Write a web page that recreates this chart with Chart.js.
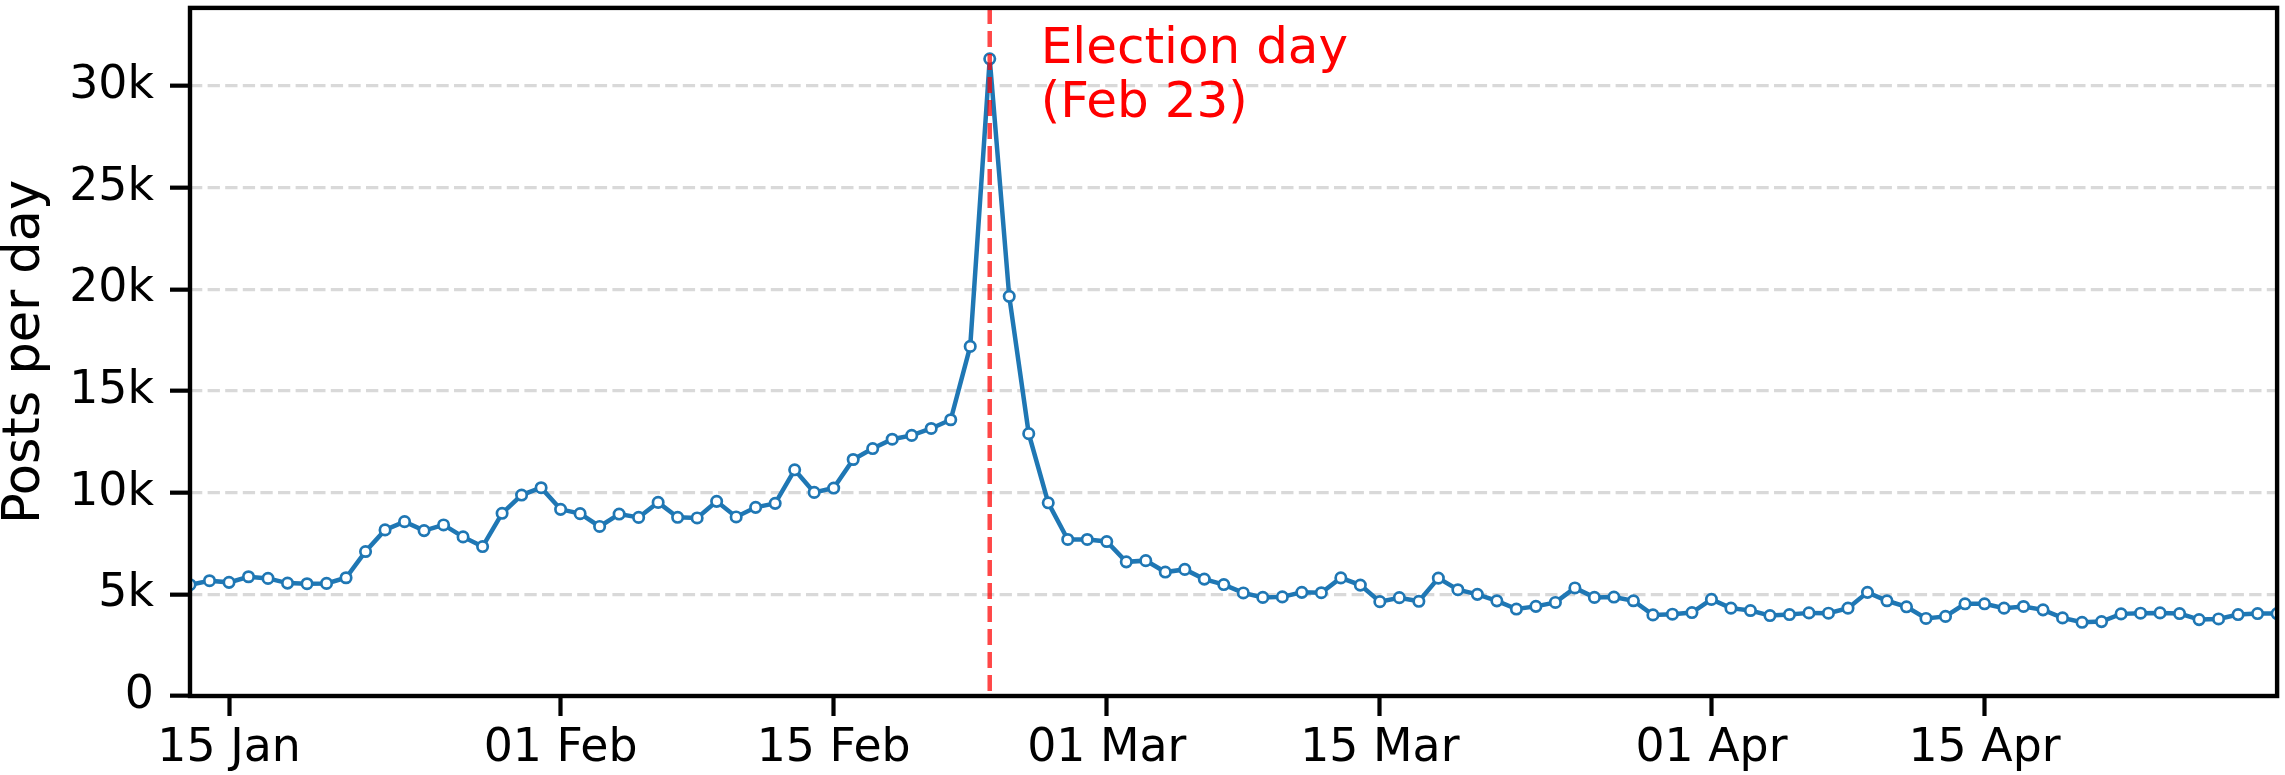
<!DOCTYPE html>
<html><head><meta charset="utf-8">
<script src="https://cdn.jsdelivr.net/npm/chart.js@4.4.1/dist/chart.umd.min.js"></script>
<style>html,body{margin:0;padding:0;background:#fff;overflow:hidden}</style>
</head><body>
<canvas id="c" width="2285" height="775"></canvas>
<script>
// ---- data ----
const startDate = '2025-01-13';
const postsPerDay = [
  5475, 5670, 5590, 5866, 5785, 5555, 5523, 5540, 5817, 7108,
  8170, 8578, 8137, 8415, 7827, 7353, 8987, 9886, 10245,
  9183, 8970, 8340, 8950, 8785, 9525, 8790, 8758, 9575, 8807,
  9281, 9477, 11127, 10016, 10229, 11634, 12173, 12631, 12820, 13160,
  13590, 17197, 31343, 19660, 12905, 9505, 7700, 7700,
  7600, 6600, 6658, 6097, 6228, 5750, 5482, 5070, 4850, 4876,
  5099, 5080, 5810, 5456, 4642, 4837, 4658, 5798, 5228, 5000,
  4680, 4278, 4409, 4603, 5315, 4851, 4868, 4685, 3990, 4023, 4106,
  4752, 4321, 4205, 3957, 4007, 4089, 4073, 4321, 5099, 4685,
  4387, 3815, 3915, 4536, 4536, 4321, 4404, 4238, 3841, 3626,
  3659, 4040, 4073, 4089, 4056, 3758, 3791, 4007, 4056, 4056
];
const xTickDates = ['2025-01-15','2025-02-01','2025-02-15','2025-03-01','2025-03-15','2025-04-01','2025-04-15'];
const xTickLabels = ['15 Jan','01 Feb','15 Feb','01 Mar','15 Mar','01 Apr','15 Apr'];
const yTickValues = [0, 5000, 10000, 15000, 20000, 25000, 30000];
const yTickLabels = ['0','5k','10k','15k','20k','25k','30k'];
const yAxisMax = 33850;
const yAxisTitle = 'Posts per day';
const electionDate = '2025-02-23';
const electionLabel = ['Election day', '(Feb 23)'];

// ---- helpers ----
const DAY = 86400000;
const dayIndex = d => Math.round((Date.parse(d) - Date.parse(startDate)) / DAY);
const points = postsPerDay.map((v, i) => ({x: i, y: v}));
const xTickIdx = xTickDates.map(dayIndex);
const electionIdx = dayIndex(electionDate);
const FONT = "'DejaVu Sans', sans-serif";

const framePlugin = {
  id: 'frame',
  afterDatasetsDraw(chart) {
    const {ctx, chartArea: a, scales: {x}} = chart;
    const px = x.getPixelForValue(electionIdx);
    ctx.save();
    ctx.strokeStyle = 'rgba(255,0,0,0.72)';
    ctx.lineWidth = 4.5;
    ctx.setLineDash([16, 7]);
    ctx.beginPath();
    ctx.moveTo(px, a.top);
    ctx.lineTo(px, a.bottom);
    ctx.stroke();
    ctx.setLineDash([]);
    ctx.fillStyle = '#ff0000';
    ctx.font = '50px ' + FONT;
    ctx.textAlign = 'left';
    ctx.textBaseline = 'alphabetic';
    ctx.fillText(electionLabel[0], px + 51, a.top + 55.5);
    ctx.fillText(electionLabel[1], px + 51, a.top + 109.5);
    ctx.restore();
  },
  afterDraw(chart) {
    const {ctx, chartArea: a} = chart;
    ctx.save();
    ctx.strokeStyle = '#000';
    ctx.lineWidth = 4.4;
    ctx.strokeRect(a.left, a.top, a.right - a.left, a.bottom - a.top);
    ctx.restore();
  }
};

new Chart(document.getElementById('c'), {
  type: 'line',
  data: {
    datasets: [{
      data: points,
      borderColor: '#1f77b4',
      borderWidth: 4.5,
      pointRadius: 5.2,
      pointBorderWidth: 2.7,
      pointBackgroundColor: '#ffffff',
      pointBorderColor: '#1f77b4',
      tension: 0,
      clip: 0
    }]
  },
  options: {
    responsive: false,
    animation: false,
    devicePixelRatio: 1,
    layout: {padding: {top: 2.5, right: 2.5, left: 0, bottom: 0}},
    plugins: {legend: {display: false}, tooltip: {enabled: false}},
    scales: {
      x: {
        type: 'linear',
        min: 0,
        max: postsPerDay.length - 1,
        afterBuildTicks: ax => { ax.ticks = xTickIdx.map(v => ({value: v})); },
        afterFit: ax => { ax.height = 79; ax.paddingLeft = 0; ax.paddingRight = 0; },
        ticks: {
          autoSkip: false,
          maxRotation: 0,
          padding: 6,
          color: '#000',
          font: {family: FONT, size: 45.8},
          callback: v => xTickLabels[xTickIdx.indexOf(v)]
        },
        grid: {drawOnChartArea: false, drawTicks: true, tickLength: 20, tickWidth: 4.2, tickColor: '#000'},
        border: {display: false}
      },
      y: {
        type: 'linear',
        min: 0,
        max: yAxisMax,
        afterBuildTicks: ax => { ax.ticks = yTickValues.map(v => ({value: v})); },
        afterFit: ax => { ax.width = 190; ax.paddingTop = 0; ax.paddingBottom = 0; },
        ticks: {
          padding: 16,
          color: '#000',
          font: {family: FONT, size: 45.8},
          callback: v => yTickLabels[yTickValues.indexOf(v)]
        },
        grid: {color: '#d9d9d9', lineWidth: 3.33, drawTicks: true, tickLength: 20, tickWidth: 4.2, tickColor: '#000', tickBorderDash: []},
        border: {display: false, dash: [12.3, 5.3]},
        title: {
          display: true,
          text: yAxisTitle,
          color: '#000',
          font: {family: FONT, size: 51, lineHeight: 1},
          padding: {top: 0, bottom: 0}
        }
      }
    }
  },
  plugins: [framePlugin]
});
</script>
</body></html>
